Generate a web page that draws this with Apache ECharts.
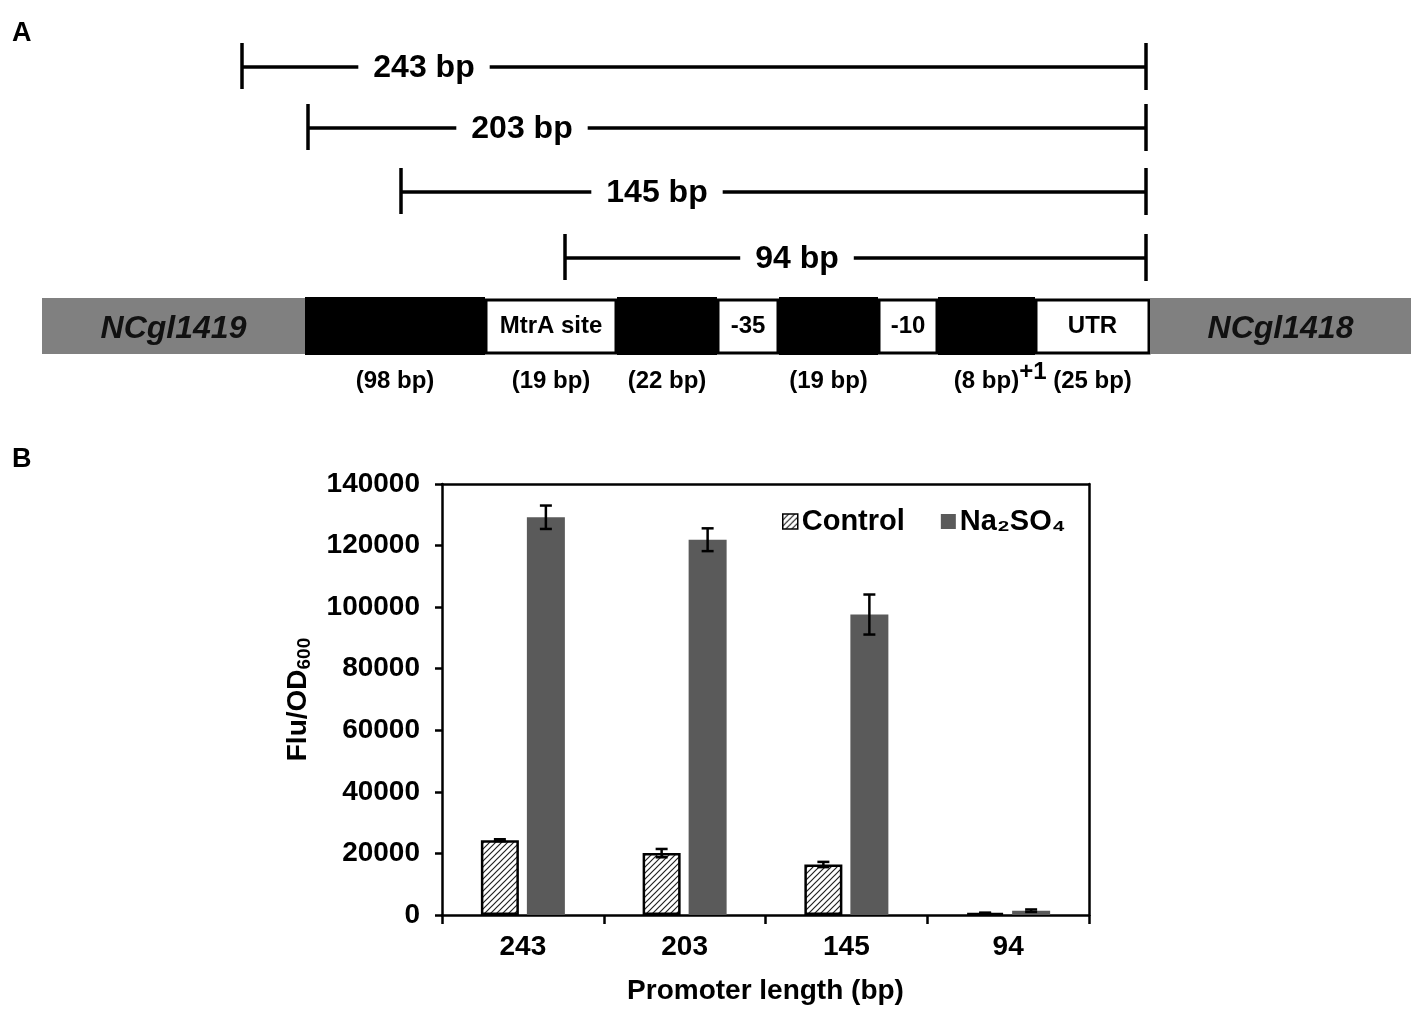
<!DOCTYPE html>
<html>
<head>
<meta charset="utf-8">
<script src="https://cdn.jsdelivr.net/npm/echarts@6/dist/echarts.min.js"></script>
<style>
html,body{margin:0;padding:0;background:#fff;}
#chartmain{width:1421px;height:1012px;}
</style>
</head>
<body>
<div id="chartmain"></div>
<script>
// panel B data
var categories = ['243', '203', '145', '94'];
var controlValues = [24300, 20100, 16400, 650];
var controlErrors = [300, 1350, 850, 120];
var naValues = [129200, 121900, 97600, 1400];
var naErrors = [3800, 3700, 6500, 400];
var yMin = 0, yMax = 140000, yStep = 20000;

// panel A schematic (drawing units)
var segStarts = [42, 305, 485, 617, 717, 779, 878, 938, 1035, 1150];
var segEnds   = [305, 485, 617, 717, 779, 878, 938, 1035, 1150, 1411];
var segKinds  = ['gene', 'fill', 'box', 'fill', 'box', 'fill', 'box', 'fill', 'box', 'gene'];
var segNames  = ['NCgl1419', '', 'MtrA site', '', '-35', '', '-10', '', 'UTR', 'NCgl1418'];
var segSizes  = ['', '(98 bp)', '(19 bp)', '(22 bp)', '', '(19 bp)', '', '(8 bp)', '(25 bp)', ''];

var fragLabels = ['243 bp', '203 bp', '145 bp', '94 bp'];
var fragStarts = [242, 308, 401, 565];
var fragEnd = 1146;
var fragRows = [67, 128, 192, 258];
var fragTextX = [424, 522, 657, 797];

var FONT = 'Arial, "Liberation Sans", sans-serif';

// hatch pattern for Control bars
var hatch = document.createElement('canvas');
hatch.width = 6; hatch.height = 6;
var hc = hatch.getContext('2d');
hc.fillStyle = '#fff';
hc.fillRect(0, 0, 6, 6);
hc.strokeStyle = '#222';
hc.lineWidth = 1.2;
hc.beginPath();
hc.moveTo(-1, 7); hc.lineTo(7, -1);
hc.moveTo(-1, 1); hc.lineTo(1, -1);
hc.moveTo(5, 7); hc.lineTo(7, 5);
hc.stroke();

var barWidth = 38, barGapPx = 8;
var pairOffset = (barWidth + barGapPx) / 2;

function errorRenderer(offset) {
	return function (params, api) {
		var idx = api.value(0);
		var top = api.coord([idx, api.value(1) + api.value(2)]);
		var bot = api.coord([idx, api.value(1) - api.value(2)]);
		var x = top[0] + offset;
		var cap = 6;
		var st = {stroke: '#000', lineWidth: 2.5};
		return {
			type: 'group',
			children: [
				{type: 'line', shape: {x1: x, y1: top[1], x2: x, y2: bot[1]}, style: st},
				{type: 'line', shape: {x1: x - cap, y1: top[1], x2: x + cap, y2: top[1]}, style: st},
				{type: 'line', shape: {x1: x - cap, y1: bot[1], x2: x + cap, y2: bot[1]}, style: st}
			]
		};
	};
}

function renderSegment(params, api) {
	var i = params.dataIndex;
	var kind = segKinds[i];
	var a = api.coord([api.value(0), 0]);
	var b = api.coord([api.value(1), 0]);
	var children = [];
	if (kind == 'gene') {
		var t = api.coord([0, 298]), u = api.coord([0, 354]);
		children.push({type: 'rect', shape: {x: a[0], y: t[1], width: b[0] - a[0], height: u[1] - t[1]},
			style: {fill: '#808080'}});
		children.push({type: 'text', x: (a[0] + b[0]) / 2, y: (t[1] + u[1]) / 2 + 3,
			style: {text: segNames[i], fill: '#111', font: 'italic bold 32px ' + FONT, align: 'center', verticalAlign: 'middle'}});
	} else if (kind == 'fill') {
		var t2 = api.coord([0, 297]), u2 = api.coord([0, 355]);
		children.push({type: 'rect', shape: {x: a[0], y: t2[1], width: b[0] - a[0], height: u2[1] - t2[1]},
			style: {fill: '#000'}});
	} else {
		var t3 = api.coord([0, 300]), u3 = api.coord([0, 353]);
		children.push({type: 'rect', shape: {x: a[0] + 1, y: t3[1], width: b[0] - a[0] - 2, height: u3[1] - t3[1]},
			style: {fill: '#fff', stroke: '#000', lineWidth: 3}});
		children.push({type: 'text', x: (a[0] + b[0]) / 2, y: (t3[1] + u3[1]) / 2,
			style: {text: segNames[i], fill: '#000', font: 'bold 24px ' + FONT, align: 'center', verticalAlign: 'middle'}});
	}
	if (segSizes[i]) {
		var ly = api.coord([0, 381]);
		children.push({type: 'text', x: (a[0] + b[0]) / 2, y: ly[1],
			style: {text: segSizes[i], fill: '#000', font: 'bold 24px ' + FONT, align: 'center', verticalAlign: 'middle'}});
	}
	if (segKinds[i] == 'box' && segNames[i] == 'UTR') {
		var py = api.coord([0, 372]);
		children.push({type: 'text', x: a[0] - 2, y: py[1],
			style: {text: '+1', fill: '#000', font: 'bold 24px ' + FONT, align: 'center', verticalAlign: 'middle'}});
	}
	return {type: 'group', children: children};
}

function renderFragment(params, api) {
	var l = api.coord([api.value(0), api.value(2)]);
	var r = api.coord([api.value(1), api.value(2)]);
	var tx = api.coord([api.value(3), api.value(2)]);
	var st = {stroke: '#000', lineWidth: 3.5};
	return {
		type: 'group',
		children: [
			{type: 'line', shape: {x1: l[0], y1: l[1], x2: r[0], y2: r[1]}, style: st},
			{type: 'line', shape: {x1: l[0], y1: l[1] - 24, x2: l[0], y2: l[1] + 22}, style: st},
			{type: 'line', shape: {x1: r[0], y1: r[1] - 24, x2: r[0], y2: r[1] + 23}, style: st},
			{type: 'text', x: tx[0], y: tx[1] + 1, z2: 10,
				style: {text: fragLabels[params.dataIndex], fill: '#000', font: 'bold 32px ' + FONT,
					align: 'center', verticalAlign: 'middle', backgroundColor: '#fff', padding: [0, 15]}}
		]
	};
}

var myChart = echarts.init(document.getElementById('chartmain'));

var option = {
	backgroundColor: '#fff',
	animation: false,
	textStyle: {fontFamily: FONT, color: '#000'},
	title: [
		{text: 'A', left: 12, top: 20, padding: 0, textStyle: {fontSize: 27, fontWeight: 'bold', color: '#000', fontFamily: FONT}},
		{text: 'B', left: 12, top: 446, padding: 0, textStyle: {fontSize: 27, fontWeight: 'bold', color: '#000', fontFamily: FONT}}
	],
	legend: {
		left: 777, top: 502,
		itemWidth: 15, itemHeight: 15, itemGap: 36,
		textStyle: {fontSize: 29, fontWeight: 'bold', color: '#000', fontFamily: FONT, padding: [0, 0, 0, -1]},
		data: [
			{name: 'Control', icon: 'rect', itemStyle: {borderColor: '#000', borderWidth: 1.5}},
			{name: 'Na₂SO₄', icon: 'rect'}
		]
	},
	grid: [
		{left: 0, top: 0, width: 1421, height: 400},
		{left: 442, top: 484, width: 647, height: 431}
	],
	xAxis: [
		{gridIndex: 0, type: 'value', min: 0, max: 1421, show: false},
		{
			gridIndex: 1, type: 'category', data: categories,
			axisLine: {onZero: false, lineStyle: {color: '#000', width: 2.5}},
			axisTick: {show: true, length: 9, lineStyle: {color: '#000', width: 2.5}},
			axisLabel: {fontSize: 28, fontWeight: 'bold', color: '#000', margin: 18, fontFamily: FONT},
			name: 'Promoter length (bp)', nameLocation: 'middle', nameGap: 62,
			nameTextStyle: {fontSize: 28, fontWeight: 'bold', color: '#000', fontFamily: FONT}
		},
		{
			gridIndex: 1, type: 'category', data: categories, position: 'top',
			axisLine: {show: true, onZero: false, lineStyle: {color: '#000', width: 2.5}},
			axisTick: {show: false}, axisLabel: {show: false}
		}
	],
	yAxis: [
		{gridIndex: 0, type: 'value', min: 0, max: 400, inverse: true, show: false},
		{
			gridIndex: 1, type: 'value', min: yMin, max: yMax, interval: yStep,
			axisLine: {show: true, lineStyle: {color: '#000', width: 2.5}},
			axisTick: {show: true, length: 7, lineStyle: {color: '#000', width: 2.5}},
			splitLine: {show: false},
			axisLabel: {fontSize: 28, fontWeight: 'bold', color: '#000', margin: 22, fontFamily: FONT,
				formatter: function (v) { return String(v); }},
			name: '{a|Flu/OD}{b|600}', nameLocation: 'middle', nameGap: 128, nameRotate: 90,
			nameTextStyle: {
				rich: {
					a: {fontSize: 28, fontWeight: 'bold', color: '#000', fontFamily: FONT, lineHeight: 32},
					b: {fontSize: 19, fontWeight: 'bold', color: '#000', fontFamily: FONT, lineHeight: 32, verticalAlign: 'bottom'}
				}
			}
		},
		{
			gridIndex: 1, type: 'value', min: yMin, max: yMax, position: 'right',
			axisLine: {show: true, onZero: false, lineStyle: {color: '#000', width: 2.5}},
			axisTick: {show: false}, axisLabel: {show: false}, splitLine: {show: false}
		}
	],
	series: [
		{
			type: 'custom', name: 'segments', xAxisIndex: 0, yAxisIndex: 0,
			renderItem: renderSegment, encode: {x: [0, 1]},
			data: segStarts.map(function (s, i) { return [s, segEnds[i]]; }),
			silent: true
		},
		{
			type: 'custom', name: 'fragments', xAxisIndex: 0, yAxisIndex: 0,
			renderItem: renderFragment, encode: {x: [0, 1], y: 2},
			data: fragStarts.map(function (s, i) { return [s, fragEnd, fragRows[i], fragTextX[i]]; }),
			silent: true
		},
		{
			type: 'bar', name: 'Control', xAxisIndex: 1, yAxisIndex: 1,
			barWidth: barWidth, barGap: (barGapPx / barWidth * 100) + '%',
			itemStyle: {color: {image: hatch, repeat: 'repeat'}, borderColor: '#000', borderWidth: 2.5},
			data: controlValues
		},
		{
			type: 'bar', name: 'Na₂SO₄', xAxisIndex: 1, yAxisIndex: 1,
			barWidth: barWidth,
			itemStyle: {color: '#5a5a5a'},
			data: naValues
		},
		{
			type: 'custom', name: 'controlErr', xAxisIndex: 1, yAxisIndex: 1,
			renderItem: errorRenderer(-pairOffset), encode: {x: 0, y: 1}, z: 5,
			data: controlValues.map(function (v, i) { return [i, v, controlErrors[i]]; })
		},
		{
			type: 'custom', name: 'naErr', xAxisIndex: 1, yAxisIndex: 1,
			renderItem: errorRenderer(pairOffset), encode: {x: 0, y: 1}, z: 5,
			data: naValues.map(function (v, i) { return [i, v, naErrors[i]]; })
		}
	]
};
myChart.setOption(option);
</script>
</body>
</html>
